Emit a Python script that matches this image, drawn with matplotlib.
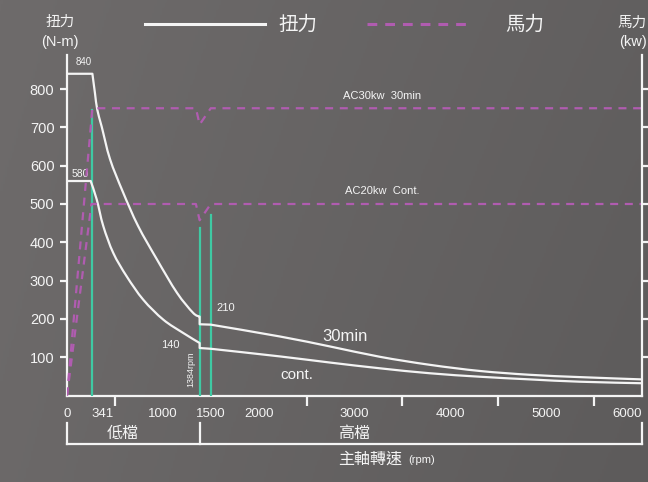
import numpy as np
import matplotlib
matplotlib.use("Agg")
import matplotlib.pyplot as plt
from matplotlib.lines import Line2D
from matplotlib.path import Path
from matplotlib.patches import PathPatch
from matplotlib.colors import LinearSegmentedColormap

plt.rcParams['font.family'] = ['Liberation Sans', 'Noto Sans CJK TC', 'DejaVu Sans']
CJK = ['Noto Sans CJK TC', 'DejaVu Sans']

# ---------------- data ----------------
rpm_low_30 = [0, 265, 292, 316, 362, 449, 584, 741, 939, 1148, 1315, 1384]
torque_low_30 = [840, 840, 789, 746, 702, 617, 531, 443, 355, 268, 216, 206]
rpm_low_cont = [0, 247, 310, 379, 483, 623, 796, 1005, 1214, 1384]
torque_low_cont = [560, 560, 512, 442, 372, 311, 250, 198, 163, 137]
rpm_high = [1384, 1500, 2223, 2745, 3266, 3789, 4310, 4833, 5353, 6000]
torque_high_30 = [186, 185, 154, 128, 101, 80, 64, 54, 48, 42]
torque_high_cont = [124, 122, 102, 86, 71, 58, 49, 42, 36, 32]

power_rpm_30 = [0, 265, 1345, 1384, 1500, 6000]
power_30 = [0, 30, 30, 28.3, 30, 30]          # kW
power_rpm_cont = [0, 255, 1345, 1384, 1500, 6000]
power_cont = [0, 20, 20, 18.3, 20, 20]        # kW

marker_rpm = [265, 1384, 1500]
marker_top = [746, 437, 470]

x_tick_pos = [0, 376, 1000, 1500, 2000, 3000, 4000, 5000, 6000]
x_tick_labels = ['0', '341', '1000', '1500', '2000', '3000', '4000', '5000', '6000']
y_ticks = [100, 200, 300, 400, 500, 600, 700, 800]
kw_ticks = [4, 8, 12, 16, 20, 24, 28, 32]

# ---------------- figure ----------------
W, H = 648, 482
fig = plt.figure(figsize=(W / 100, H / 100), dpi=100)

# background gradient
bg = fig.add_axes([0, 0, 1, 1], zorder=-10)
xx = np.linspace(0, 1, 300)
yy = np.linspace(0, 1, 200)
X, Y = np.meshgrid(xx, yy)
Z = 0.55 * X + 0.25 * (1 - Y) * X - 0.15 * (1 - X) * Y
cmap = LinearSegmentedColormap.from_list('bg', ['#6e6b6b', '#5d5b5b'])
bg.imshow(Z, cmap=cmap, aspect='auto', extent=[0, 1, 0, 1], origin='lower')
bg.set_axis_off()

WHITE = '#f4f4f4'
GREEN = '#3fc9a3'
MAG = '#b05cb0'

left, right = 67 / W, 642 / W
bottom, top = 1 - 395.5 / H, 1 - 55 / H
ax = fig.add_axes([left, bottom, right - left, top - bottom])
ax.patch.set_alpha(0)
ax.set_xlim(0, 6000)
ax.set_ylim(0, 889)


def smooth_codes(xs, ys):
    """Catmull-Rom style Bezier controls through the given read points."""
    pts = np.column_stack([xs, ys]).astype(float)
    verts, codes = [], []
    n = len(pts)
    for i in range(n - 1):
        p0 = pts[i - 1] if i > 0 else pts[i]
        p1, p2 = pts[i], pts[i + 1]
        p3 = pts[i + 2] if i + 2 < n else pts[i + 1]
        c1 = p1 + (p2 - p0) / 6.0
        c2 = p2 - (p3 - p1) / 6.0
        verts += [tuple(c1), tuple(c2), tuple(p2)]
        codes += [Path.CURVE4] * 3
    return verts, codes


def torque_path(rpm_low, t_low, rpm_hi, t_hi):
    verts = [(rpm_low[0], t_low[0]), (rpm_low[1], t_low[1])]
    codes = [Path.MOVETO, Path.LINETO]
    v, c = smooth_codes(rpm_low[1:], t_low[1:])
    verts += v
    codes += c
    verts += [(rpm_hi[0], t_hi[0]), (rpm_hi[1], t_hi[1])]
    codes += [Path.LINETO, Path.LINETO]
    v, c = smooth_codes(rpm_hi[1:], t_hi[1:])
    verts += v
    codes += c
    return Path(verts, codes)


for rl, tl, th in [(rpm_low_30, torque_low_30, torque_high_30),
                   (rpm_low_cont, torque_low_cont, torque_high_cont)]:
    ax.add_patch(PathPatch(torque_path(rl, tl, rpm_high, th), facecolor='none',
                           edgecolor=WHITE, lw=1.6, zorder=4, joinstyle='round'))

# green markers
for r, t in zip(marker_rpm, marker_top):
    ax.plot([r, r], [0, t], color=GREEN, lw=1.6, zorder=3)

# power curves (right axis)
ax2 = ax.twinx()
ax2.set_ylim(0, 889 / 25)
ax2.patch.set_alpha(0)
for rr, pp in [(power_rpm_30, power_30), (power_rpm_cont, power_cont)]:
    l, = ax2.plot(rr, pp, color=MAG, lw=1.6, zorder=2)
    l.set_dashes((3.6, 3.0))

# spines / ticks
for a in (ax, ax2):
    for s in a.spines.values():
        s.set_color(WHITE)
        s.set_linewidth(1.6)
    a.spines['top'].set_visible(False)
ax.spines['right'].set_visible(False)
ax2.spines['left'].set_visible(False)
ax2.spines['bottom'].set_visible(False)

ax.set_yticks(y_ticks)
ax.set_yticklabels([str(v) for v in y_ticks])
ax.tick_params(axis='y', direction='out', length=5, width=1.6, color=WHITE,
               labelcolor=WHITE, labelsize=10.5, pad=4)
ax.set_xticks(x_tick_pos)
ax.set_xticklabels(x_tick_labels)
ax.set_xticks(np.arange(0, 6001, 500), minor=True)
ax.tick_params(axis='x', which='major', length=0, labelcolor=WHITE, labelsize=9.5, pad=9)
ax.tick_params(axis='x', which='minor', direction='out', length=7, width=1.6, color=WHITE)
ax.get_xticklabels()[-1].set_horizontalalignment('right')

ax2.set_yticks(kw_ticks)
ax2.set_yticklabels([])
ax2.tick_params(axis='y', direction='out', length=6, width=1.6, color=WHITE)

# annotations
ax.text(177, 871, '840', color=WHITE, fontsize=7, ha='center', va='center')
ax.text(136, 578, '580', color=WHITE, fontsize=7.5, ha='center', va='center')
ax.text(1660, 229, '210', color=WHITE, fontsize=8, ha='center', va='center')
ax.text(1075, 132, '140', color=WHITE, fontsize=8, ha='center', va='center')
ax.text(1290, 69, '1384rpm', color=WHITE, fontsize=6.5, ha='center', va='center', rotation=90)
ax.text(3290, 782, 'AC30kw  30min', color=WHITE, fontsize=8, ha='center', va='center')
ax.text(3290, 534, 'AC20kw  Cont.', color=WHITE, fontsize=8, ha='center', va='center')
ax.text(2900, 153, '30min', color=WHITE, fontsize=12, ha='center', va='center')
ax.text(2400, 54, 'cont.', color=WHITE, fontsize=11, ha='center', va='center')

# gear bracket below axis
tr = ax.get_xaxis_transform()
yb, yt = -0.141, -0.082
ax.plot([0, 6000], [yb, yb], color=WHITE, lw=1.6, transform=tr, clip_on=False)
for xv in [0, 1384, 6000]:
    ax.plot([xv, xv], [yb, yt], color=WHITE, lw=1.6, transform=tr, clip_on=False)
ax.text(580, -0.112, '低檔', color=WHITE, fontsize=11.5, ha='center', va='center',
        transform=tr, family=CJK)
ax.text(3000, -0.112, '高檔', color=WHITE, fontsize=11.5, ha='center', va='center',
        transform=tr, family=CJK)

# x label
fig.text(370 / W, 1 - 459 / H, '主軸轉速', color=WHITE, fontsize=11.5, ha='center',
         va='center', family=CJK)
fig.text(422 / W, 1 - 460 / H, '(rpm)', color=WHITE, fontsize=8, ha='center', va='center')

# axis titles
fig.text(60 / W, 1 - 22 / H, '扭力', color=WHITE, fontsize=10.5, ha='center', va='center', family=CJK)
fig.text(60 / W, 1 - 42 / H, '(N-m)', color=WHITE, fontsize=10.5, ha='center', va='center')
fig.text(647 / W, 1 - 23 / H, '馬力', color=WHITE, fontsize=10.5, ha='right', va='center', family=CJK)
fig.text(647 / W, 1 - 42 / H, '(kw)', color=WHITE, fontsize=10.5, ha='right', va='center')

# legend
ly = 1 - 24 / H
fig.add_artist(Line2D([145 / W, 265 / W], [ly, ly], color=WHITE, lw=2.2))
fig.text(278 / W, ly, '扭力', color=WHITE, fontsize=14, ha='left', va='center', family=CJK)
dl = Line2D([367 / W, 472 / W], [ly, ly], color=MAG, lw=2.2)
dl.set_dashes((3.2, 2.6))
fig.add_artist(dl)
fig.text(505 / W, ly, '馬力', color=WHITE, fontsize=14, ha='left', va='center', family=CJK)

fig.savefig('out.png', dpi=100)
